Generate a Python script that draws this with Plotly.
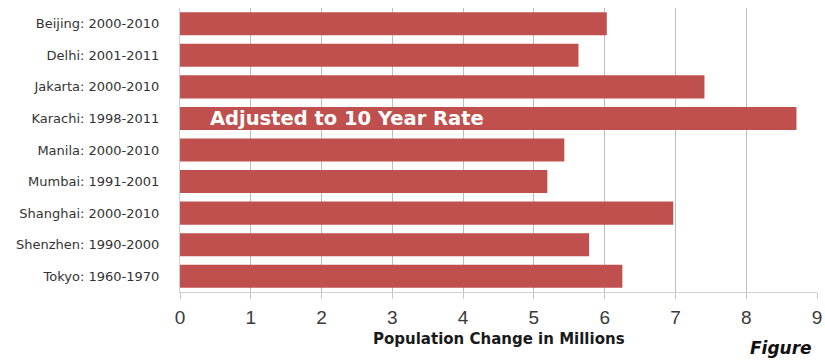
import plotly.graph_objects as go

categories = ["Beijing: 2000-2010", "Delhi: 2001-2011", "Jakarta: 2000-2010",
              "Karachi: 1998-2011", "Manila: 2000-2010", "Mumbai: 1991-2001",
              "Shanghai: 2000-2010", "Shenzhen: 1990-2000", "Tokyo: 1960-1970"]
values = [6.03, 5.63, 7.41, 8.71, 5.43, 5.19, 6.97, 5.78, 6.25]
x_ticks = [0, 1, 2, 3, 4, 5, 6, 7, 8, 9]
x_title = "Population Change in Millions"
bar_note = "Adjusted to 10 Year Rate"
note_category = "Karachi: 1998-2011"
figure_label = "Figure"

bar_color = "#C0504D"
grid_color = "#BDBDBD"

fig = go.Figure()
fig.add_trace(go.Bar(
    y=categories, x=values, orientation="h",
    marker=dict(color=bar_color, line=dict(width=0)),
    hoverinfo="x+y",
))

fig.update_layout(
    width=825, height=360,
    margin=dict(l=180, r=8, t=8, b=68),
    paper_bgcolor="white", plot_bgcolor="white",
    bargap=0.27,
    showlegend=False,
    xaxis=dict(
        range=[0, 9], tickmode="array", tickvals=x_ticks,
        showgrid=True, gridcolor=grid_color, gridwidth=1,
        zeroline=False, automargin=False,
        showline=True, linecolor="#D0D0D0", linewidth=1,
        ticks="outside", ticklen=6, tickcolor="#C8C8C8",
        tickfont=dict(family="Liberation Sans, Arial", size=19, color="#3A3A3A"),
        ticklabelstandoff=2,
    ),
    yaxis=dict(
        autorange="reversed", categoryorder="array", categoryarray=categories,
        showgrid=False, zeroline=False, automargin=False,
        showline=True, linecolor="#D0D0D0", linewidth=1,
        ticks="",
        tickfont=dict(family="DejaVu Sans", size=13, color="#333333"),
        ticklabelstandoff=17,
    ),
    annotations=[
        dict(text=f"<b>{x_title}</b>", xref="paper", yref="paper",
             x=0.5, y=-0.167, xanchor="center", yanchor="middle", showarrow=False,
             font=dict(family="DejaVu Sans", size=15, color="#1A1A1A")),
        dict(text=f"<b>{bar_note}</b>", xref="x", yref="y",
             x=0.4, y=note_category, xanchor="left", yanchor="middle", showarrow=False,
             font=dict(family="DejaVu Sans", size=19.5, color="white")),
        dict(text=f"<b><i>{figure_label}</i></b>", xref="paper", yref="paper",
             x=0.892, y=-0.197, xanchor="left", yanchor="middle", showarrow=False,
             font=dict(family="DejaVu Sans", size=17, color="#111111")),
    ],
)

fig.write_html("out.html")
